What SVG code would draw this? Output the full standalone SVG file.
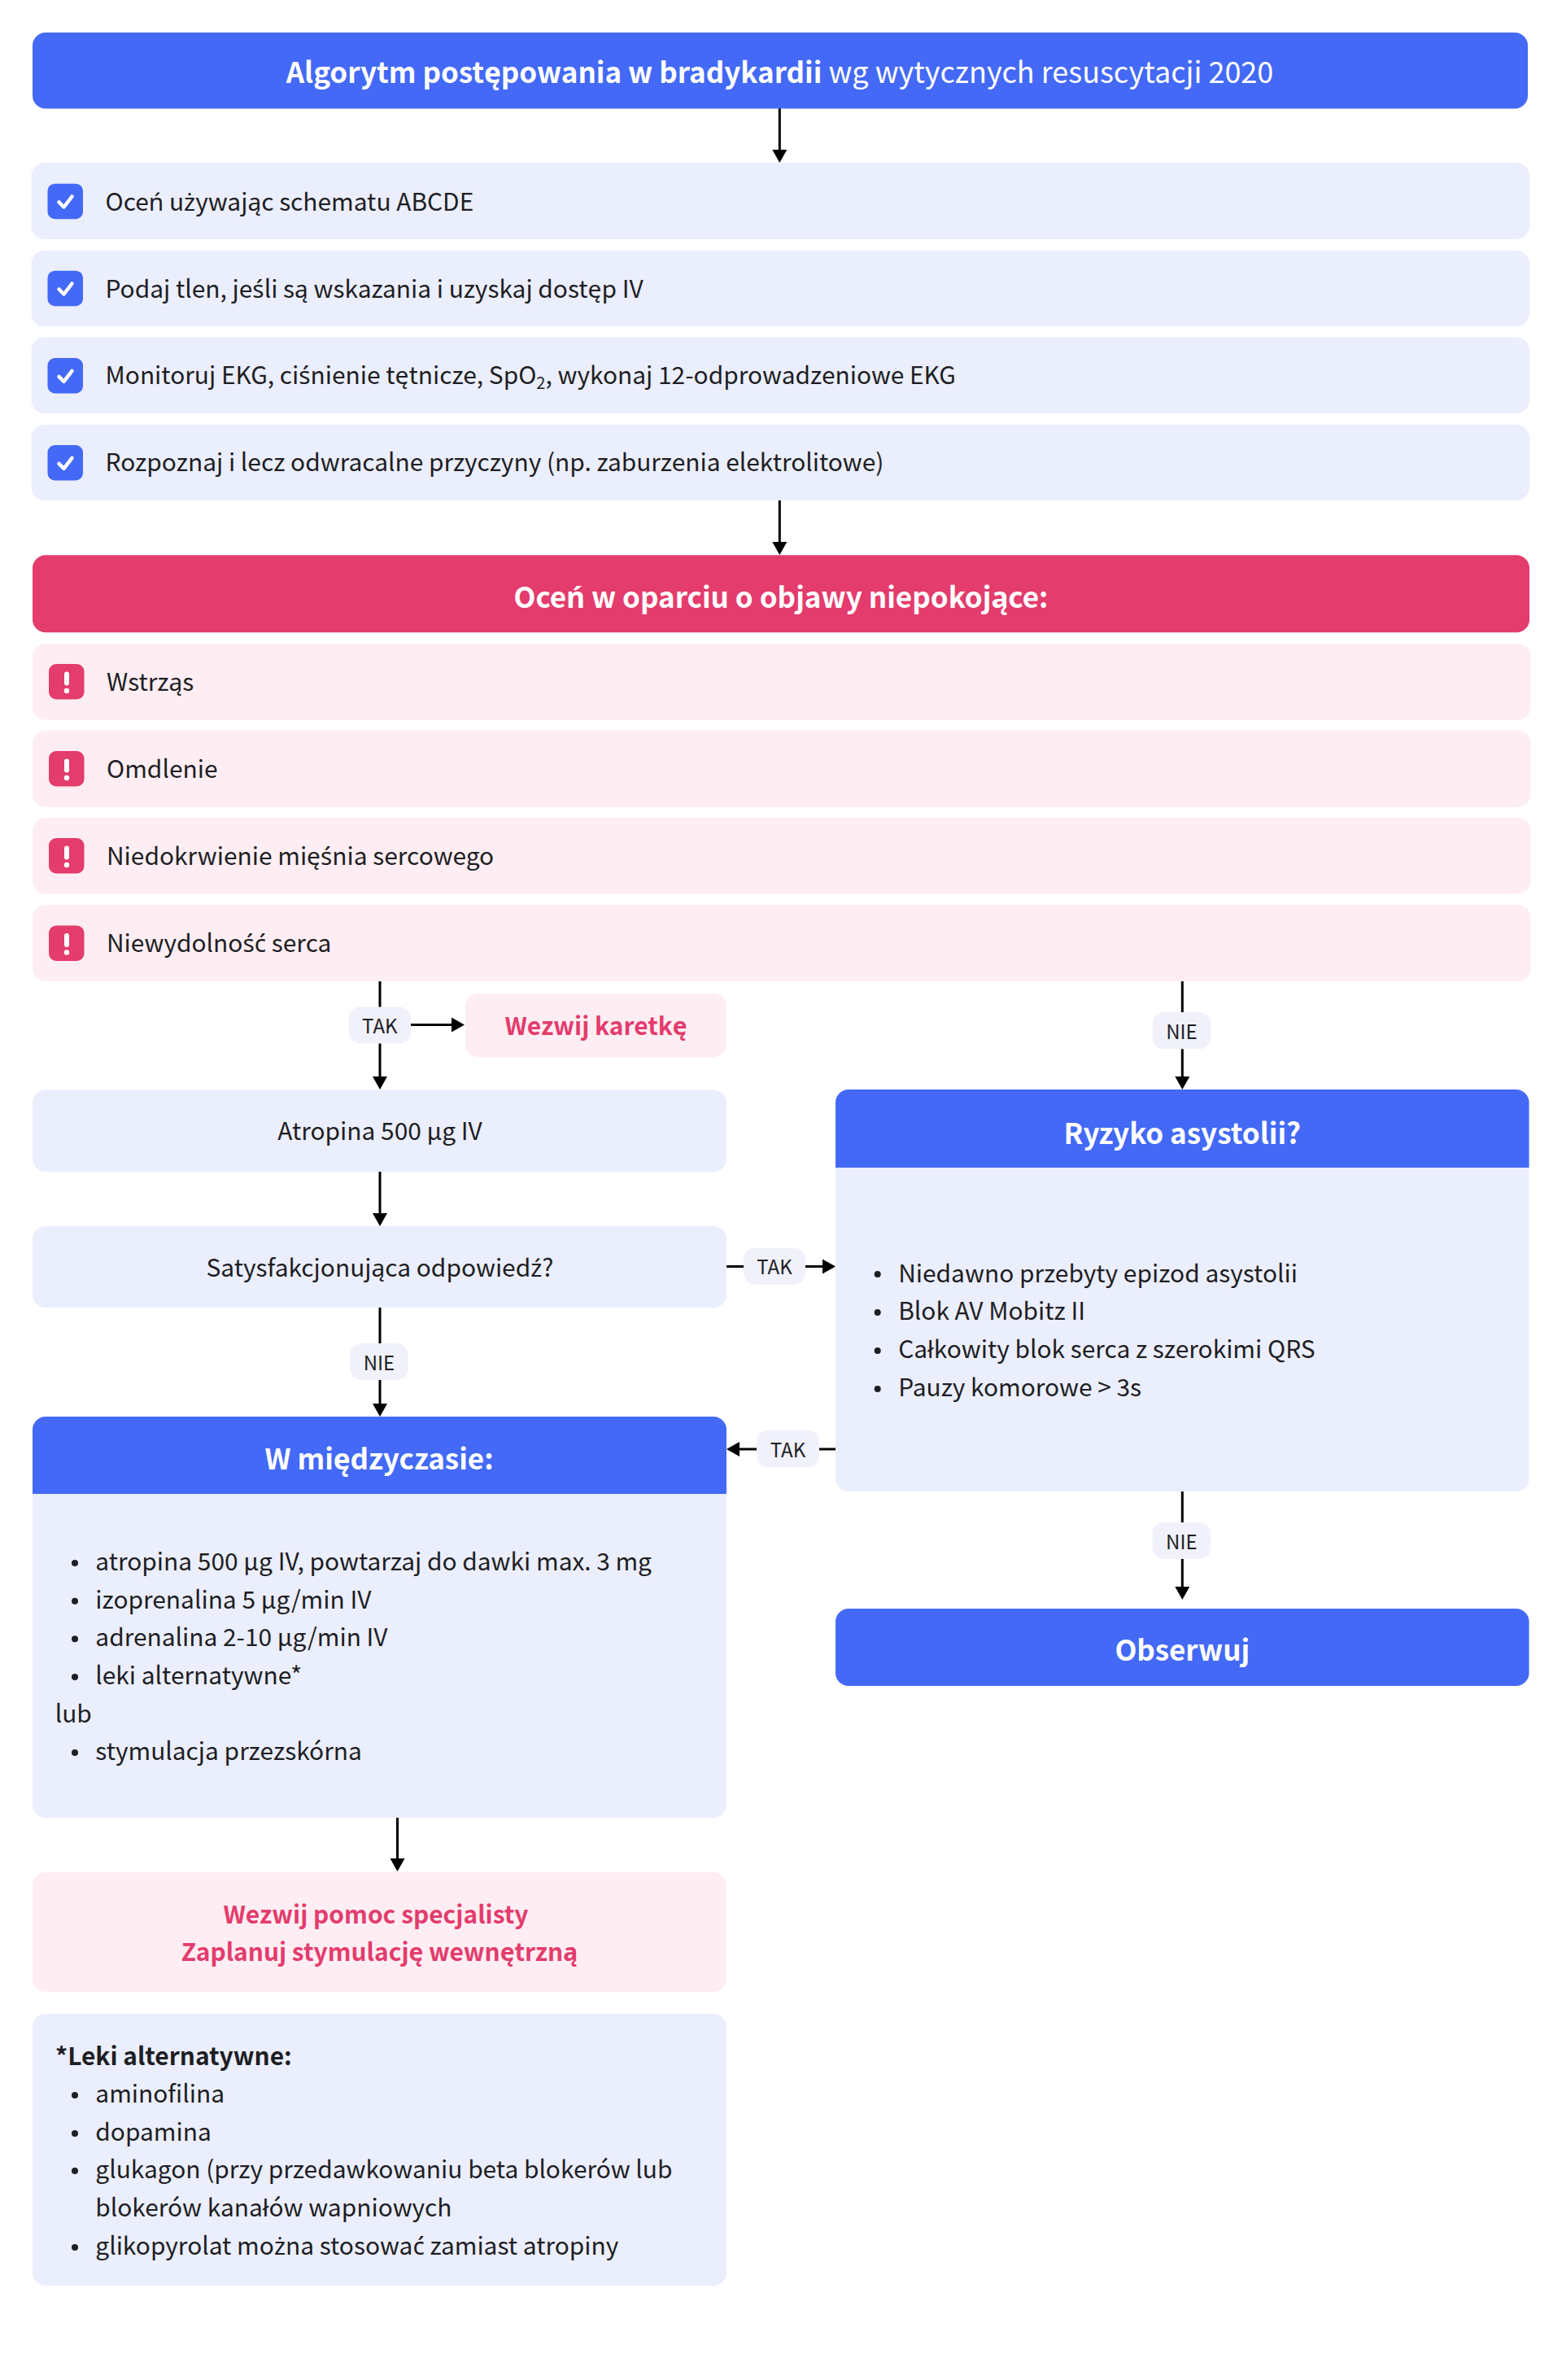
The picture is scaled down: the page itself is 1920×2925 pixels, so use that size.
<svg xmlns="http://www.w3.org/2000/svg" width="1920" height="2925" viewBox="0 0 1920 2925">
<style>
text{font-family:"Noto Sans CJK SC","Source Sans Pro","Noto Sans",sans-serif;fill:#1e1e24;font-size:29.9px}
tspan.f{font-family:"Noto Sans",sans-serif}
.c{text-anchor:middle}
.h{fill:#fff;font-size:35px;font-weight:700}
.p{fill:#e33c6d;font-weight:700}
.b{font-weight:700}
.lab{font-size:24px}
.blue{fill:#4369f6}.red{fill:#e33c6d}.lb{fill:#ebeefc}.pk{fill:#feeef3}.pill{fill:#f0f1fa}
.conn{stroke:#000;stroke-width:3;fill:none;marker-end:url(#a)}
.chk{stroke:#fff;stroke-width:4.5;fill:none;stroke-linecap:round;stroke-linejoin:round}
.bu{fill:#1e1e24}
</style>
<defs>
<marker id="a" markerUnits="userSpaceOnUse" markerWidth="18" markerHeight="20" refX="8" refY="10" orient="auto"><path d="M0 1 L16 10 L0 19Z" fill="#000"/></marker>
</defs>
<rect width="1920" height="2925" fill="#fff"/>
<g id="connectors">
<line class="conn" x1="958.3" y1="133" x2="958.3" y2="192"/>
<line class="conn" x1="958.3" y1="615" x2="958.3" y2="674"/>
<line class="conn" x1="467" y1="1206" x2="467" y2="1331"/>
<line class="conn" x1="505" y1="1259.5" x2="563" y2="1259.5"/>
<line class="conn" x1="467" y1="1440" x2="467" y2="1499"/>
<line class="conn" x1="893" y1="1556.5" x2="1019" y2="1556.5"/>
<line class="conn" x1="467" y1="1607" x2="467" y2="1733"/>
<line class="conn" x1="1027" y1="1781" x2="901" y2="1781"/>
<line class="conn" x1="1453.3" y1="1206" x2="1453.3" y2="1331"/>
<line class="conn" x1="1453.3" y1="1833" x2="1453.3" y2="1958"/>
<line class="conn" x1="488.5" y1="2234" x2="488.5" y2="2292"/>
</g>
<g id="title"><rect class="blue" x="40" y="40" width="1838" height="93.5" rx="16"/><text class="c h" x="958.5" y="101.5">Algorytm postępowania w bradykardii<tspan font-weight="400" font-size="36"> wg wytycznych resuscytacji 2020</tspan></text></g>
<g id="check1"><rect class="lb" x="38.5" y="200" width="1841.5" height="94" rx="16"/><rect class="blue" x="58.5" y="225.7" width="43.5" height="43.5" rx="9"/><path class="chk" d="M72.500 248.500 l6 6 l10 -13"/><text x="129.500" y="258.800">Oce<tspan class="f">ń</tspan> u<tspan class="f">ż</tspan>ywając schematu ABCDE</text></g>
<g id="check2"><rect class="lb" x="38.5" y="307.700" width="1841.5" height="93.500" rx="16"/><rect class="blue" x="58.5" y="332.700" width="43.5" height="43.5" rx="9"/><path class="chk" d="M72.500 355.500 l6 6 l10 -13"/><text x="129.500" y="365.500">Podaj tlen, je<tspan class="f">ś</tspan>li są wskazania i uzyskaj dostęp IV</text></g>
<g id="check3"><rect class="lb" x="38.5" y="414.500" width="1841.5" height="93.500" rx="16"/><rect class="blue" x="58.5" y="440" width="43.5" height="43.5" rx="9"/><path class="chk" d="M72.500 462.800 l6 6 l10 -13"/><text x="129.500" y="472">Monitoruj EKG, ci<tspan class="f">ś</tspan>nienie tętnicze, SpO<tspan font-size="20" dy="6">2</tspan><tspan dy="-6">, wykonaj 12-odprowadzeniowe EKG</tspan></text></g>
<g id="check4"><rect class="lb" x="38.5" y="522" width="1841.5" height="93" rx="16"/><rect class="blue" x="58.5" y="547" width="43.5" height="43.5" rx="9"/><path class="chk" d="M72.500 569.800 l6 6 l10 -13"/><text x="129.500" y="579.300">Rozpoznaj i lecz odwracalne przyczyny (np. zaburzenia elektrolitowe)</text></g>
<g id="assess"><rect class="red" x="40" y="682.300" width="1840" height="95" rx="16"/><text class="c h" x="960" y="746.700">Oce<tspan class="f">ń</tspan> w oparciu o objawy niepokojące:</text></g>
<g id="warn1"><rect class="pk" x="40" y="791" width="1841.700" height="93.700" rx="16"/><rect class="red" x="60" y="816" width="43.500" height="43.500" rx="9"/><rect fill="#fff" x="79" y="825.500" width="6" height="17" rx="3"/><circle fill="#fff" cx="82" cy="849" r="3.200"/><text x="131" y="848.500">Wstrząs</text></g>
<g id="warn2"><rect class="pk" x="40" y="897.700" width="1841.700" height="94" rx="16"/><rect class="red" x="60" y="923" width="43.500" height="43.500" rx="9"/><rect fill="#fff" x="79" y="932.500" width="6" height="17" rx="3"/><circle fill="#fff" cx="82" cy="956" r="3.200"/><text x="131" y="956">Omdlenie</text></g>
<g id="warn3"><rect class="pk" x="40" y="1005" width="1841.700" height="93.500" rx="16"/><rect class="red" x="60" y="1030" width="43.500" height="43.500" rx="9"/><rect fill="#fff" x="79" y="1039.500" width="6" height="17" rx="3"/><circle fill="#fff" cx="82" cy="1063" r="3.200"/><text x="131" y="1063">Niedokrwienie mię<tspan class="f">ś</tspan>nia sercowego</text></g>
<g id="warn4"><rect class="pk" x="40" y="1112" width="1841.700" height="94" rx="16"/><rect class="red" x="60" y="1137.500" width="43.500" height="43.500" rx="9"/><rect fill="#fff" x="79" y="1147" width="6" height="17" rx="3"/><circle fill="#fff" cx="82" cy="1170.500" r="3.200"/><text x="131" y="1170">Niewydolno<tspan class="f">ść</tspan> serca</text></g>
<g id="call"><rect class="pk" x="572" y="1221" width="321" height="78.500" rx="16"/><text class="c p" x="732.500" y="1272">Wezwij karetkę</text></g>
<g id="atropine"><rect class="lb" x="40" y="1339.500" width="853" height="100.500" rx="16"/><text class="c" x="467" y="1401">Atropina 500 µg IV</text></g>
<g id="response"><rect class="lb" x="40" y="1507" width="853" height="100" rx="16"/><text class="c" x="467" y="1569">Satysfakcjonująca odpowied<tspan class="f">ź</tspan>?</text></g>
<g id="risk"><rect class="lb" x="1027" y="1339" width="852.500" height="494" rx="16"/><path class="blue" d="M1027 1435V1355a16 16 0 0 1 16-16H1863.500a16 16 0 0 1 16 16V1435Z"/><text class="c h" x="1453.300" y="1405.600">Ryzyko asystolii?</text>
<circle class="bu" cx="1078.700" cy="1566" r="4"/><text x="1104.200" y="1575.500">Niedawno przebyty epizod asystolii</text>
<circle class="bu" cx="1078.700" cy="1613" r="4"/><text x="1104.200" y="1622.300">Blok AV Mobitz II</text>
<circle class="bu" cx="1078.700" cy="1660" r="4"/><text x="1104.200" y="1669">Całkowity blok serca z szerokimi QRS</text>
<circle class="bu" cx="1078.700" cy="1707" r="4"/><text x="1104.200" y="1716">Pauzy komorowe &gt; 3s</text></g>
<g id="observe"><rect class="blue" x="1027" y="1977" width="852.500" height="95" rx="16"/><text class="c h" x="1453.300" y="2040.800">Obserwuj</text></g>
<g id="meanwhile"><rect class="lb" x="40" y="1741" width="853" height="493" rx="16"/><path class="blue" d="M40 1836V1757a16 16 0 0 1 16-16H877a16 16 0 0 1 16 16V1836Z"/><text class="c h" x="466" y="1806">W międzyczasie:</text>
<circle class="bu" cx="92" cy="1921" r="4"/><text x="117.300" y="1930">atropina 500 µg IV, powtarzaj do dawki max. 3 mg</text>
<circle class="bu" cx="92" cy="1967.700" r="4"/><text x="117.300" y="1976.700">izoprenalina 5 µg/min IV</text>
<circle class="bu" cx="92" cy="2014.300" r="4"/><text x="117.300" y="2023.300">adrenalina 2-10 µg/min IV</text>
<circle class="bu" cx="92" cy="2061" r="4"/><text x="117.300" y="2070">leki alternatywne*</text>
<text x="67.700" y="2116.700">lub</text>
<circle class="bu" cx="92" cy="2154" r="4"/><text x="117.300" y="2163">stymulacja przezskórna</text></g>
<g id="specialist"><rect class="pk" x="40" y="2301" width="853" height="147" rx="16"/><text class="c p" x="462" y="2364">Wezwij pomoc specjalisty</text><text class="c p" x="466.500" y="2410">Zaplanuj stymulację wewnętrzną</text></g>
<g id="drugs"><rect class="lb" x="40" y="2475" width="853" height="334" rx="16"/><text class="b" x="68" y="2537.500">*Leki alternatywne:</text>
<circle class="bu" cx="92" cy="2575" r="4"/><text x="117.300" y="2584">aminofilina</text>
<circle class="bu" cx="92" cy="2622" r="4"/><text x="117.300" y="2631">dopamina</text>
<circle class="bu" cx="92" cy="2668" r="4"/><text x="117.300" y="2677">glukagon (przy przedawkowaniu beta blokerów lub</text>
<text x="117.300" y="2723.500">blokerów kanałów wapniowych</text>
<circle class="bu" cx="92" cy="2762" r="4"/><text x="117.300" y="2771">glikopyrolat mo<tspan class="f">ż</tspan>na stosowa<tspan class="f">ć</tspan> zamiast atropiny</text></g>
<g id="lab-tak1"><rect class="pill" x="428.600" y="1237.500" width="76.400" height="45" rx="14"/><text class="c lab" x="466.800" y="1270">TAK</text></g>
<g id="lab-nie1"><rect class="pill" x="1416.700" y="1244" width="71.600" height="45.300" rx="14"/><text class="c lab" x="1452.500" y="1277.300">NIE</text></g>
<g id="lab-tak2"><rect class="pill" x="914" y="1533.700" width="76" height="45" rx="14"/><text class="c lab" x="952" y="1566.200">TAK</text></g>
<g id="lab-nie2"><rect class="pill" x="430.500" y="1651" width="71" height="45" rx="14"/><text class="c lab" x="466" y="1684">NIE</text></g>
<g id="lab-tak3"><rect class="pill" x="930" y="1758" width="77" height="45" rx="14"/><text class="c lab" x="968.500" y="1791">TAK</text></g>
<g id="lab-nie3"><rect class="pill" x="1416.500" y="1871" width="71.500" height="45" rx="14"/><text class="c lab" x="1452.300" y="1904">NIE</text></g>
</svg>
